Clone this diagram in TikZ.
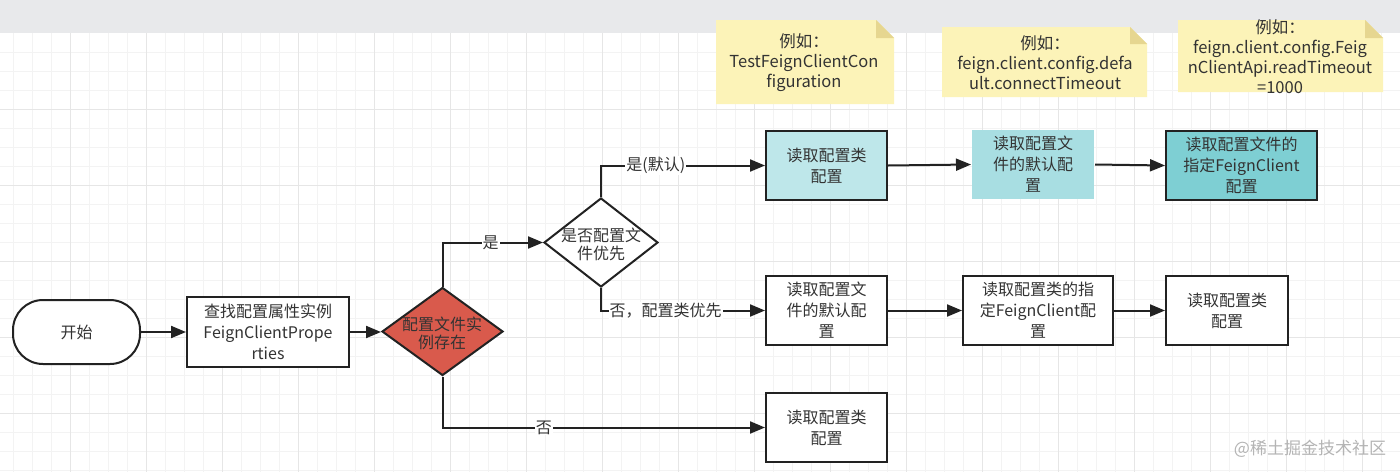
\documentclass[tikz,border=0pt]{standalone}
\usepackage{fontspec}
\setmainfont{Noto Sans CJK SC}
\usetikzlibrary{arrows.meta,shapes.geometric}
\definecolor{txtc}{HTML}{333333}
\definecolor{linec}{HTML}{222222}
\definecolor{bandc}{HTML}{E8E9EB}
\definecolor{gridminor}{HTML}{F3F3F3}
\definecolor{gridmajor}{HTML}{E6E6E6}
\definecolor{redc}{HTML}{D95A4C}
\definecolor{aonec}{HTML}{BEE7EA}
\definecolor{atwoc}{HTML}{A8DEE2}
\definecolor{athreec}{HTML}{7ECFD3}
\definecolor{notec}{HTML}{FCF3B8}
\definecolor{foldc}{HTML}{E6D690}
\definecolor{wmc}{HTML}{B4B4B4}
\begin{document}
\begin{tikzpicture}[x=1pt,y=-1pt,
  txt/.style={text=txtc, font=\fontsize{16}{21}\selectfont, align=center},
  box/.style={txt, draw=linec, line width=2pt, inner sep=0pt, minimum height=69pt},
  dia/.style={diamond, draw=linec, line width=2pt, inner sep=0pt},
  diatxt/.style={text=txtc, font=\fontsize{16}{18}\selectfont, align=center},
  arr/.style={draw=linec, line width=2pt, -{Triangle[length=15pt,width=12pt]}},
  lab/.style={text=txtc, font=\fontsize{16}{18}\selectfont, fill=white, inner sep=1pt},
  notetxt/.style={text=txtc, font=\fontsize{16.5}{20}\selectfont, align=center},
  minorline/.style={draw=gridminor, line width=1pt},
  majorline/.style={draw=gridmajor, line width=1pt}
]
\useasboundingbox (0,0) rectangle (1400,472);
\fill[white] (0,0) rectangle (1400,472);
\fill[bandc] (0,0) rectangle (1400,33);
% grid
\foreach \x in {13,32,...,1400} \draw[minorline] (\x,33) -- (\x,472);
\foreach \y in {52,71,...,472} \draw[minorline] (0,\y) -- (1400,\y);
\foreach \x in {70,146,...,1400} \draw[majorline] (\x,33) -- (\x,472);
\foreach \y in {109,185,...,472} \draw[majorline] (0,\y) -- (1400,\y);

% notes
\fill[notec] (716,20) -- (876,20) -- (894,38) -- (894,104) -- (716,104) -- cycle;
\fill[foldc] (876,20) -- (894,38) -- (876,38) -- cycle;
\node[notetxt] (n1) at (804,63) {例如：\\TestFeignClientCon\\figuration};

\fill[notec] (942,27) -- (1130,27) -- (1147,44) -- (1147,97) -- (942,97) -- cycle;
\fill[foldc] (1130,27) -- (1147,44) -- (1130,44) -- cycle;
\node[notetxt] (n2) at (1045,63) {例如：\\feign.client.config.defa\\ult.connectTimeout};

\fill[notec] (1178,20) -- (1365,20) -- (1383,38) -- (1383,92) -- (1178,92) -- cycle;
\fill[foldc] (1365,20) -- (1383,38) -- (1365,38) -- cycle;
\node[notetxt] (n3) at (1280,57) {例如：\\feign.client.config.Feig\\nClientApi.readTimeout\\=1000};

% main nodes
\node[box, fill=white, rounded corners=30pt, minimum width=127pt, minimum height=64pt] (start) at (76.5,332) {开始};
\node[box, fill=white, minimum width=162pt, minimum height=70pt] (prop) at (268,332) {查找配置属性实例\\FeignClientPrope\\rties};
\node[dia, fill=redc, minimum width=121pt, minimum height=88pt] (d1) at (442.5,331.5) {};
\node[diatxt] (d1t) at (442,333) {配置文件实\\例存在};
\node[dia, fill=white, minimum width=114pt, minimum height=89pt] (d2) at (601,242.5) {};
\node[diatxt] (d2t) at (601,244) {是否配置文\\件优先};

\node[box, fill=aonec, minimum width=121pt] (a1) at (826.5,165.5) {读取配置类\\配置};
\node[box, fill=atwoc, draw=none, minimum width=122pt] (a2) at (1033,164.5) {读取配置文\\件的默认配\\置};
\node[box, fill=athreec, minimum width=151pt] (a3) at (1241.5,165.5) {读取配置文件的\\指定FeignClient\\配置};

\node[box, fill=white, minimum width=121pt] (b1) at (826.5,310.5) {读取配置文\\件的默认配\\置};
\node[box, fill=white, minimum width=150pt] (b2) at (1038,310.5) {读取配置类的指\\定FeignClient配\\置};
\node[box, fill=white, minimum width=122pt] (b3) at (1227,310.5) {读取配置类\\配置};

\node[box, fill=white, minimum width=121pt] (c1) at (826.5,427.5) {读取配置类\\配置};

% connectors
\draw[arr] (start) -- (prop);
\draw[arr] (prop.east) -- (prop.east -| d1.west);
\draw[arr] (d1.north) |- node[lab, pos=0.74] {是} (d2.west);
\draw[arr] (d2.north) |- node[lab, pos=0.667] {是(默认)} (a1.west);
\draw[arr] (d2.south) |- node[lab, pos=0.697] {否，配置类优先} (b1.west);
\draw[arr] (d1.south) |- node[lab, pos=0.657] {否} (c1.west);
\draw[arr] (a1.east) -- (a2.west);
\draw[arr] (a2.east) -- (a3.west);
\draw[arr] (b1.east) -- (b2.west);
\draw[arr] (b2.east) -- (b3.west);

\node[text=wmc, font=\fontsize{17}{17}\selectfont] (wm) at (1310,449) {@稀土掘金技术社区};
\end{tikzpicture}
\end{document}
